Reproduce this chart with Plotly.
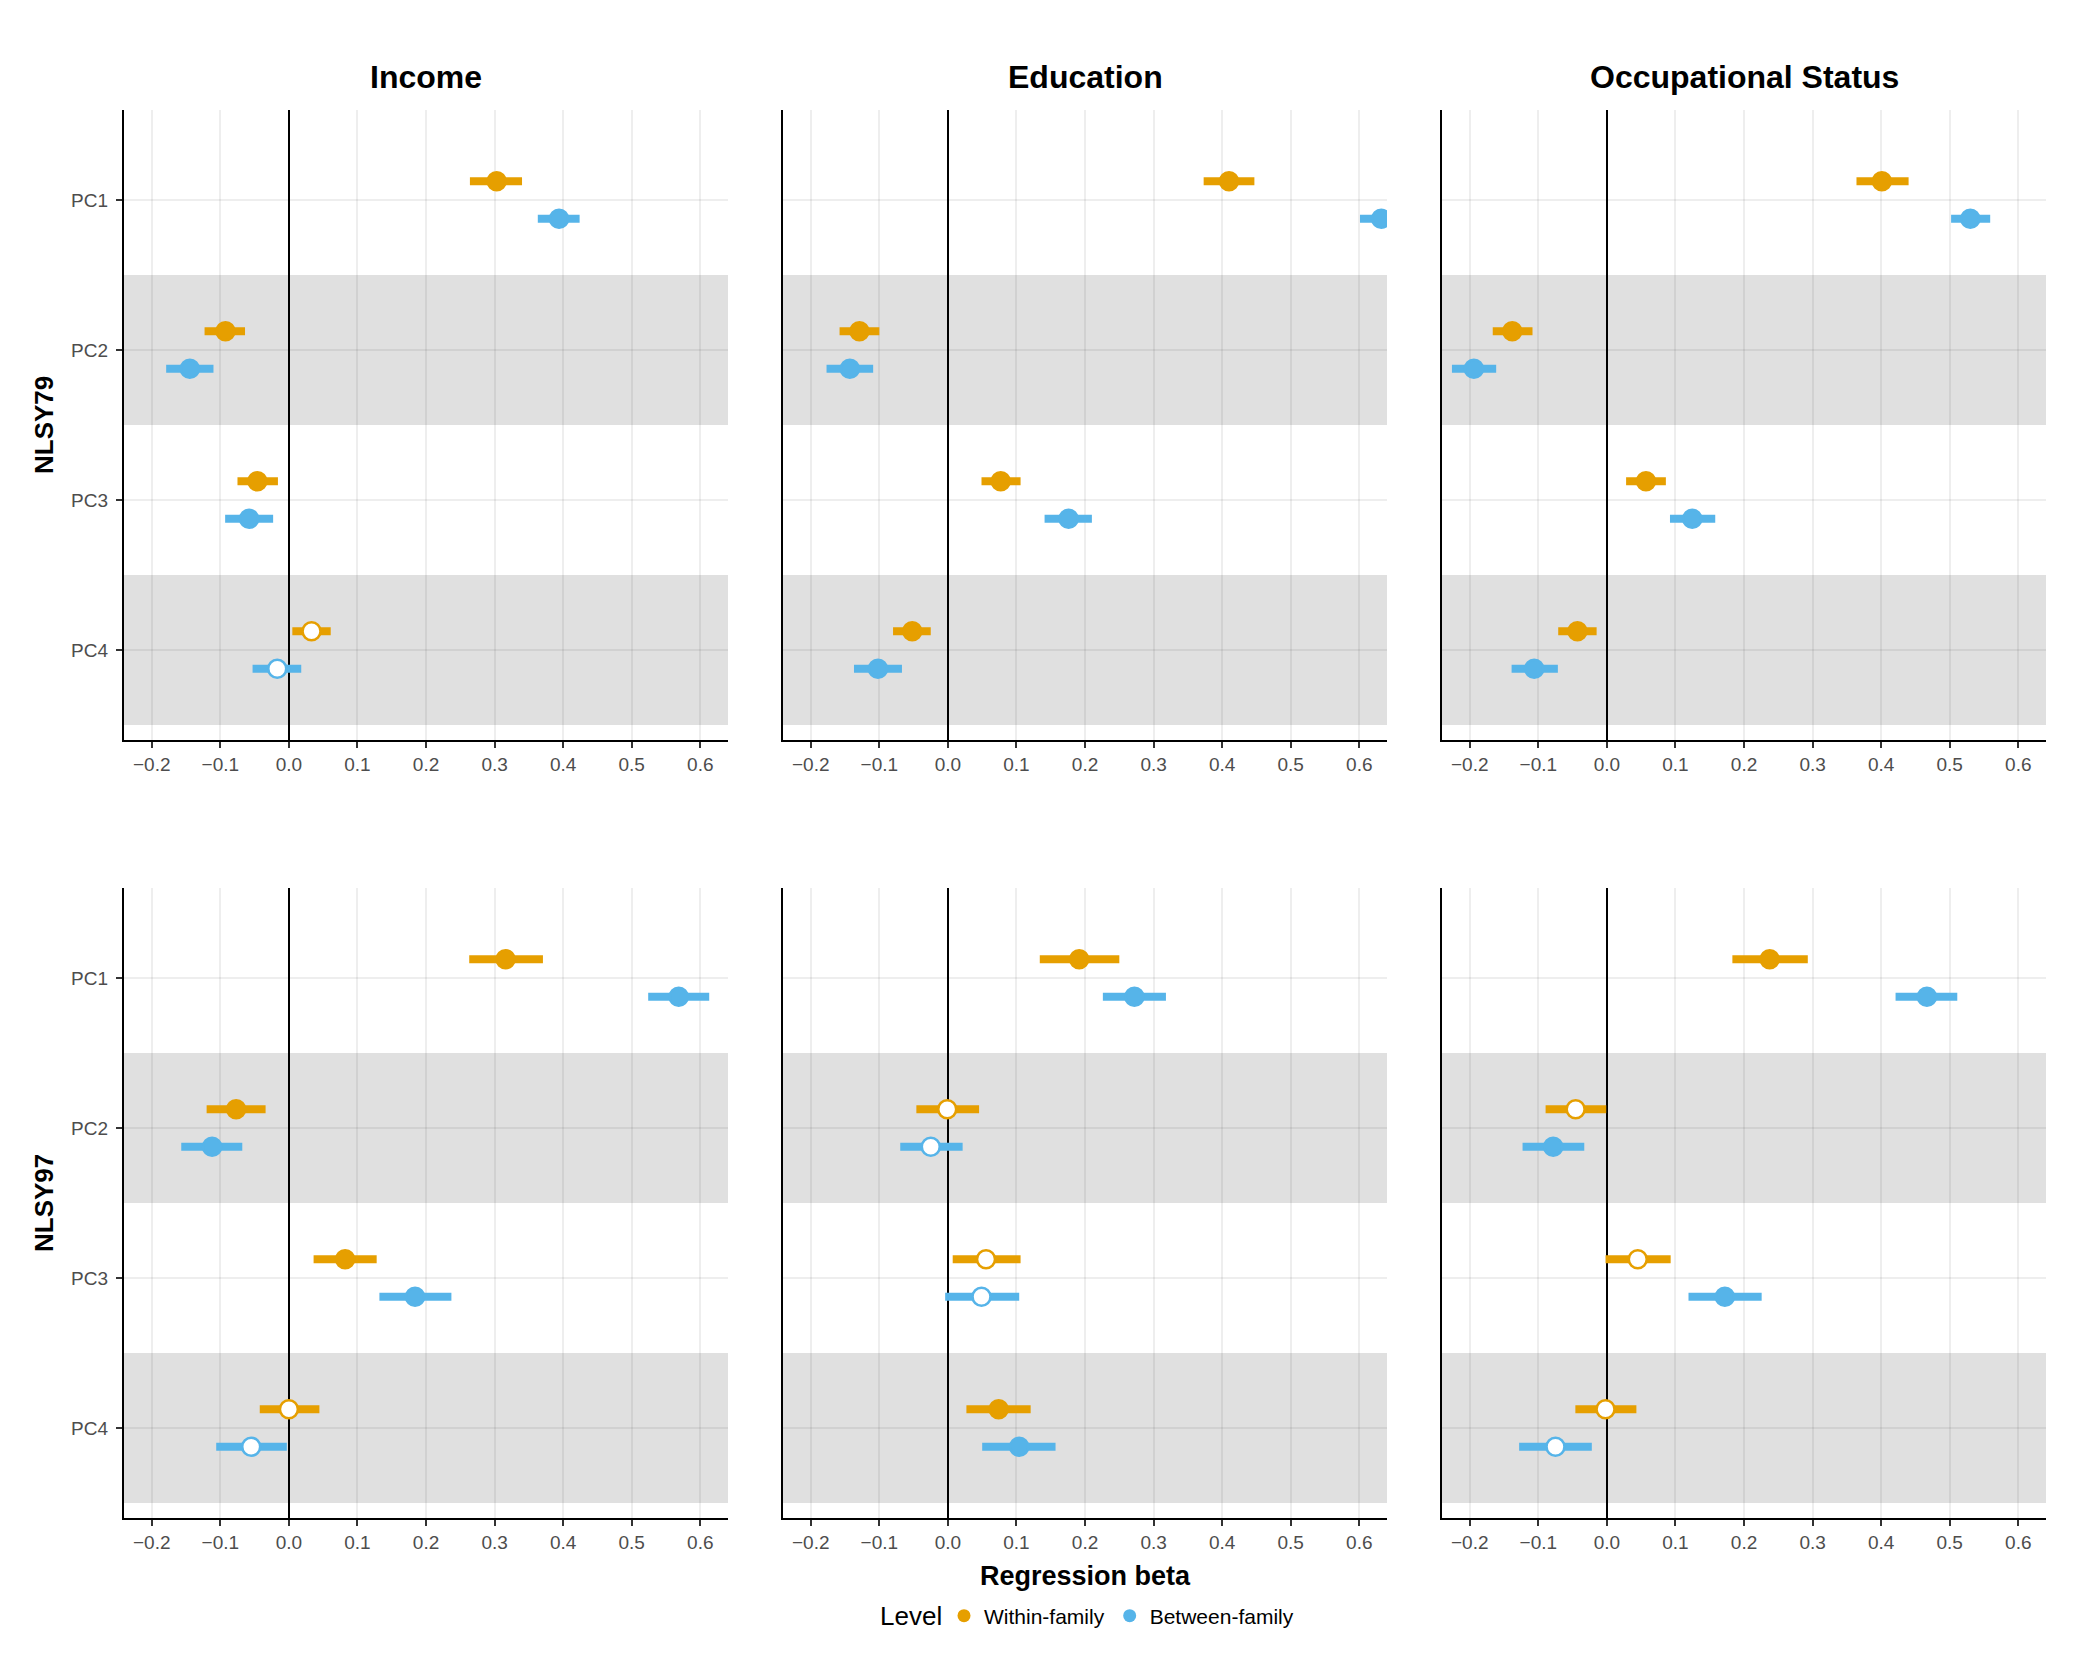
import plotly.graph_objects as go

# ---------------- data ----------------
components = ["PC1", "PC2", "PC3", "PC4"]
outcomes = ["Income", "Education", "Occupational Status"]
cohorts = ["NLSY79", "NLSY97"]
levels = ["Within-family", "Between-family"]
level_colors = ["#E69F00", "#56B4E9"]
shaded_components = ["PC2", "PC4"]
x_ticks = [-0.2, -0.1, 0.0, 0.1, 0.2, 0.3, 0.4, 0.5, 0.6]

# NLSY79 ----------------------------------------------------
nlsy79_income_within_est = [0.303, -0.0925, -0.046, 0.033]
nlsy79_income_within_lo = [0.264, -0.123, -0.075, 0.005]
nlsy79_income_within_hi = [0.340, -0.064, -0.016, 0.061]
nlsy79_income_within_sig = [1, 1, 1, 0]
nlsy79_income_between_est = [0.394, -0.1445, -0.058, -0.017]
nlsy79_income_between_lo = [0.363, -0.179, -0.093, -0.053]
nlsy79_income_between_hi = [0.424, -0.110, -0.023, 0.018]
nlsy79_income_between_sig = [1, 1, 1, 0]

nlsy79_edu_within_est = [0.410, -0.129, 0.077, -0.052]
nlsy79_edu_within_lo = [0.373, -0.158, 0.049, -0.080]
nlsy79_edu_within_hi = [0.447, -0.100, 0.106, -0.025]
nlsy79_edu_within_sig = [1, 1, 1, 1]
nlsy79_edu_between_est = [0.632, -0.143, 0.176, -0.102]
nlsy79_edu_between_lo = [0.601, -0.177, 0.141, -0.137]
nlsy79_edu_between_hi = [0.662, -0.109, 0.210, -0.067]
nlsy79_edu_between_sig = [1, 1, 1, 1]

nlsy79_occ_within_est = [0.401, -0.138, 0.057, -0.043]
nlsy79_occ_within_lo = [0.364, -0.1665, 0.028, -0.071]
nlsy79_occ_within_hi = [0.440, -0.1085, 0.086, -0.015]
nlsy79_occ_within_sig = [1, 1, 1, 1]
nlsy79_occ_between_est = [0.530, -0.194, 0.1245, -0.106]
nlsy79_occ_between_lo = [0.502, -0.226, 0.092, -0.139]
nlsy79_occ_between_hi = [0.559, -0.1615, 0.158, -0.0715]
nlsy79_occ_between_sig = [1, 1, 1, 1]

# NLSY97 ----------------------------------------------------
nlsy97_income_within_est = [0.316, -0.077, 0.082, 0.000]
nlsy97_income_within_lo = [0.263, -0.120, 0.036, -0.0425]
nlsy97_income_within_hi = [0.3705, -0.034, 0.128, 0.0445]
nlsy97_income_within_sig = [1, 1, 1, 0]
nlsy97_income_between_est = [0.5685, -0.112, 0.184, -0.055]
nlsy97_income_between_lo = [0.524, -0.157, 0.132, -0.106]
nlsy97_income_between_hi = [0.613, -0.068, 0.237, -0.003]
nlsy97_income_between_sig = [1, 1, 1, 0]

nlsy97_edu_within_est = [0.1915, -0.001, 0.0556, 0.074]
nlsy97_edu_within_lo = [0.134, -0.046, 0.007, 0.027]
nlsy97_edu_within_hi = [0.250, 0.0455, 0.106, 0.1207]
nlsy97_edu_within_sig = [1, 0, 0, 1]
nlsy97_edu_between_est = [0.272, -0.025, 0.049, 0.104]
nlsy97_edu_between_lo = [0.226, -0.0695, -0.004, 0.050]
nlsy97_edu_between_hi = [0.318, 0.0215, 0.104, 0.157]
nlsy97_edu_between_sig = [1, 0, 0, 1]

nlsy97_occ_within_est = [0.2374, -0.0456, 0.045, -0.002]
nlsy97_occ_within_lo = [0.183, -0.0894, -0.002, -0.046]
nlsy97_occ_within_hi = [0.293, -0.001, 0.093, 0.043]
nlsy97_occ_within_sig = [1, 0, 0, 0]
nlsy97_occ_between_est = [0.4667, -0.0783, 0.172, -0.075]
nlsy97_occ_between_lo = [0.421, -0.123, 0.119, -0.128]
nlsy97_occ_between_hi = [0.511, -0.033, 0.2257, -0.022]
nlsy97_occ_between_sig = [1, 1, 1, 0]

panels = [
    (0, 0, [(nlsy79_income_within_est, nlsy79_income_within_lo, nlsy79_income_within_hi, nlsy79_income_within_sig),
            (nlsy79_income_between_est, nlsy79_income_between_lo, nlsy79_income_between_hi, nlsy79_income_between_sig)]),
    (0, 1, [(nlsy79_edu_within_est, nlsy79_edu_within_lo, nlsy79_edu_within_hi, nlsy79_edu_within_sig),
            (nlsy79_edu_between_est, nlsy79_edu_between_lo, nlsy79_edu_between_hi, nlsy79_edu_between_sig)]),
    (0, 2, [(nlsy79_occ_within_est, nlsy79_occ_within_lo, nlsy79_occ_within_hi, nlsy79_occ_within_sig),
            (nlsy79_occ_between_est, nlsy79_occ_between_lo, nlsy79_occ_between_hi, nlsy79_occ_between_sig)]),
    (1, 0, [(nlsy97_income_within_est, nlsy97_income_within_lo, nlsy97_income_within_hi, nlsy97_income_within_sig),
            (nlsy97_income_between_est, nlsy97_income_between_lo, nlsy97_income_between_hi, nlsy97_income_between_sig)]),
    (1, 1, [(nlsy97_edu_within_est, nlsy97_edu_within_lo, nlsy97_edu_within_hi, nlsy97_edu_within_sig),
            (nlsy97_edu_between_est, nlsy97_edu_between_lo, nlsy97_edu_between_hi, nlsy97_edu_between_sig)]),
    (1, 2, [(nlsy97_occ_within_est, nlsy97_occ_within_lo, nlsy97_occ_within_hi, nlsy97_occ_within_sig),
            (nlsy97_occ_between_est, nlsy97_occ_between_lo, nlsy97_occ_between_hi, nlsy97_occ_between_sig)]),
]

# ---------------- layout geometry (pixels) ----------------
W, H = 2084, 1667
col_px = [(124, 728), (783, 1387), (1442, 2046)]
row_px = [(110, 740), (888, 1518)]
dodge = [-0.125, 0.125]
FONT = "Liberation Sans, Arial, Helvetica, sans-serif"
TICK_COLOR = "#4D4D4D"
GRID = "rgba(0,0,0,0.068)"

fig = go.Figure()
layout = dict(
    width=W, height=H, margin=dict(l=0, r=0, t=0, b=0),
    paper_bgcolor="white", plot_bgcolor="white",
    font=dict(family=FONT, color="black"),
    showlegend=True,
)
shapes = []
annotations = []

pos = list(range(1, len(components) + 1))

for i, (r, c, series) in enumerate(panels):
    n = i + 1
    xname = "xaxis" if n == 1 else f"xaxis{n}"
    yname = "yaxis" if n == 1 else f"yaxis{n}"
    xref = "x" if n == 1 else f"x{n}"
    yref = "y" if n == 1 else f"y{n}"
    x0, x1 = col_px[c]
    y0, y1 = row_px[r]
    layout[xname] = dict(
        domain=[x0 / W, x1 / W], anchor=yref,
        range=[-0.2405, 0.6404], tickvals=x_ticks, tickformat=".1f",
        showgrid=True, gridcolor=GRID, gridwidth=2,
        zeroline=True, zerolinecolor="black", zerolinewidth=1.6,
        showline=True, linecolor="black", linewidth=2.4, mirror=False,
        ticks="outside", ticklen=6, tickwidth=2, tickcolor="#333333",
        tickfont=dict(size=19, color=TICK_COLOR, family=FONT),
        fixedrange=True,
    )
    layout[yname] = dict(
        domain=[1 - y1 / H, 1 - y0 / H], anchor=xref,
        range=[len(components) + 0.6, 0.4],
        tickvals=pos, ticktext=components,
        showticklabels=(c == 0), ticks="outside" if c == 0 else "",
        ticklen=6, tickwidth=2, tickcolor="#333333",
        ticklabelstandoff=4,
        tickfont=dict(size=19, color=TICK_COLOR, family=FONT),
        showgrid=True, gridcolor=GRID, gridwidth=2,
        zeroline=False,
        showline=True, linecolor="black", linewidth=2.4, mirror=False,
        fixedrange=True,
    )
    # shaded bands
    for comp in shaded_components:
        k = components.index(comp) + 1
        shapes.append(dict(
            type="rect", xref=f"{xref} domain", yref=yref,
            x0=0, x1=1, y0=k - 0.5, y1=k + 0.5,
            fillcolor="#E0E0E0", line=dict(width=0), layer="below",
        ))
    # estimates
    for li, (est, lo, hi, sig) in enumerate(series):
        col = level_colors[li]
        fig.add_trace(go.Scatter(
            x=est, y=[p + dodge[li] for p in pos],
            mode="markers", xaxis=xref, yaxis=yref,
            showlegend=False, name=levels[li],
            error_x=dict(type="data", symmetric=False,
                         array=[h - e for h, e in zip(hi, est)],
                         arrayminus=[e - l for e, l in zip(est, lo)],
                         color=col, thickness=8, width=0),
            marker=dict(size=18, symbol="circle",
                        color=[col if s else "white" for s in sig],
                        line=dict(color=col, width=2.6)),
            hoverinfo="skip",
        ))

# legend-only traces
for li, lev in enumerate(levels):
    fig.add_trace(go.Scatter(
        x=[None], y=[None], mode="markers", name=lev,
        marker=dict(size=13, color=level_colors[li]),
        xaxis="x", yaxis="y", showlegend=True,
    ))

# column titles
for c, name in enumerate(outcomes):
    x0, x1 = col_px[c]
    annotations.append(dict(
        text=f"<b>{name}</b>", x=(x0 + x1) / 2 / W, y=1 - 77 / H,
        xref="paper", yref="paper", showarrow=False,
        xanchor="center", yanchor="middle",
        font=dict(size=32, color="black", family=FONT),
    ))
# row labels
for r, name in enumerate(cohorts):
    y0, y1 = row_px[r]
    annotations.append(dict(
        text=f"<b>{name}</b>", x=44 / W, y=1 - (y0 + y1) / 2 / H,
        xref="paper", yref="paper", showarrow=False, textangle=-90,
        xanchor="center", yanchor="middle",
        font=dict(size=26, color="black", family=FONT),
    ))
# x-axis title
annotations.append(dict(
    text="<b>Regression beta</b>", x=(col_px[1][0] + col_px[1][1]) / 2 / W,
    y=1 - 1576 / H, xref="paper", yref="paper", showarrow=False,
    xanchor="center", yanchor="middle",
    font=dict(size=27, color="black", family=FONT),
))
# legend title
LEG_Y = 1616
annotations.append(dict(
    text="Level", x=944 / W, y=1 - LEG_Y / H, xref="paper", yref="paper",
    showarrow=False, xanchor="right", yanchor="middle",
    font=dict(size=26, color="black", family=FONT),
))

layout["shapes"] = shapes
layout["annotations"] = annotations
layout["legend"] = dict(
    orientation="h", x=944 / W, xanchor="left",
    y=1 - LEG_Y / H, yanchor="middle",
    font=dict(size=21, color="black", family=FONT),
    bgcolor="rgba(0,0,0,0)", itemclick=False, itemdoubleclick=False,
)
fig.update_layout(**layout)
fig.write_html("out.html")
